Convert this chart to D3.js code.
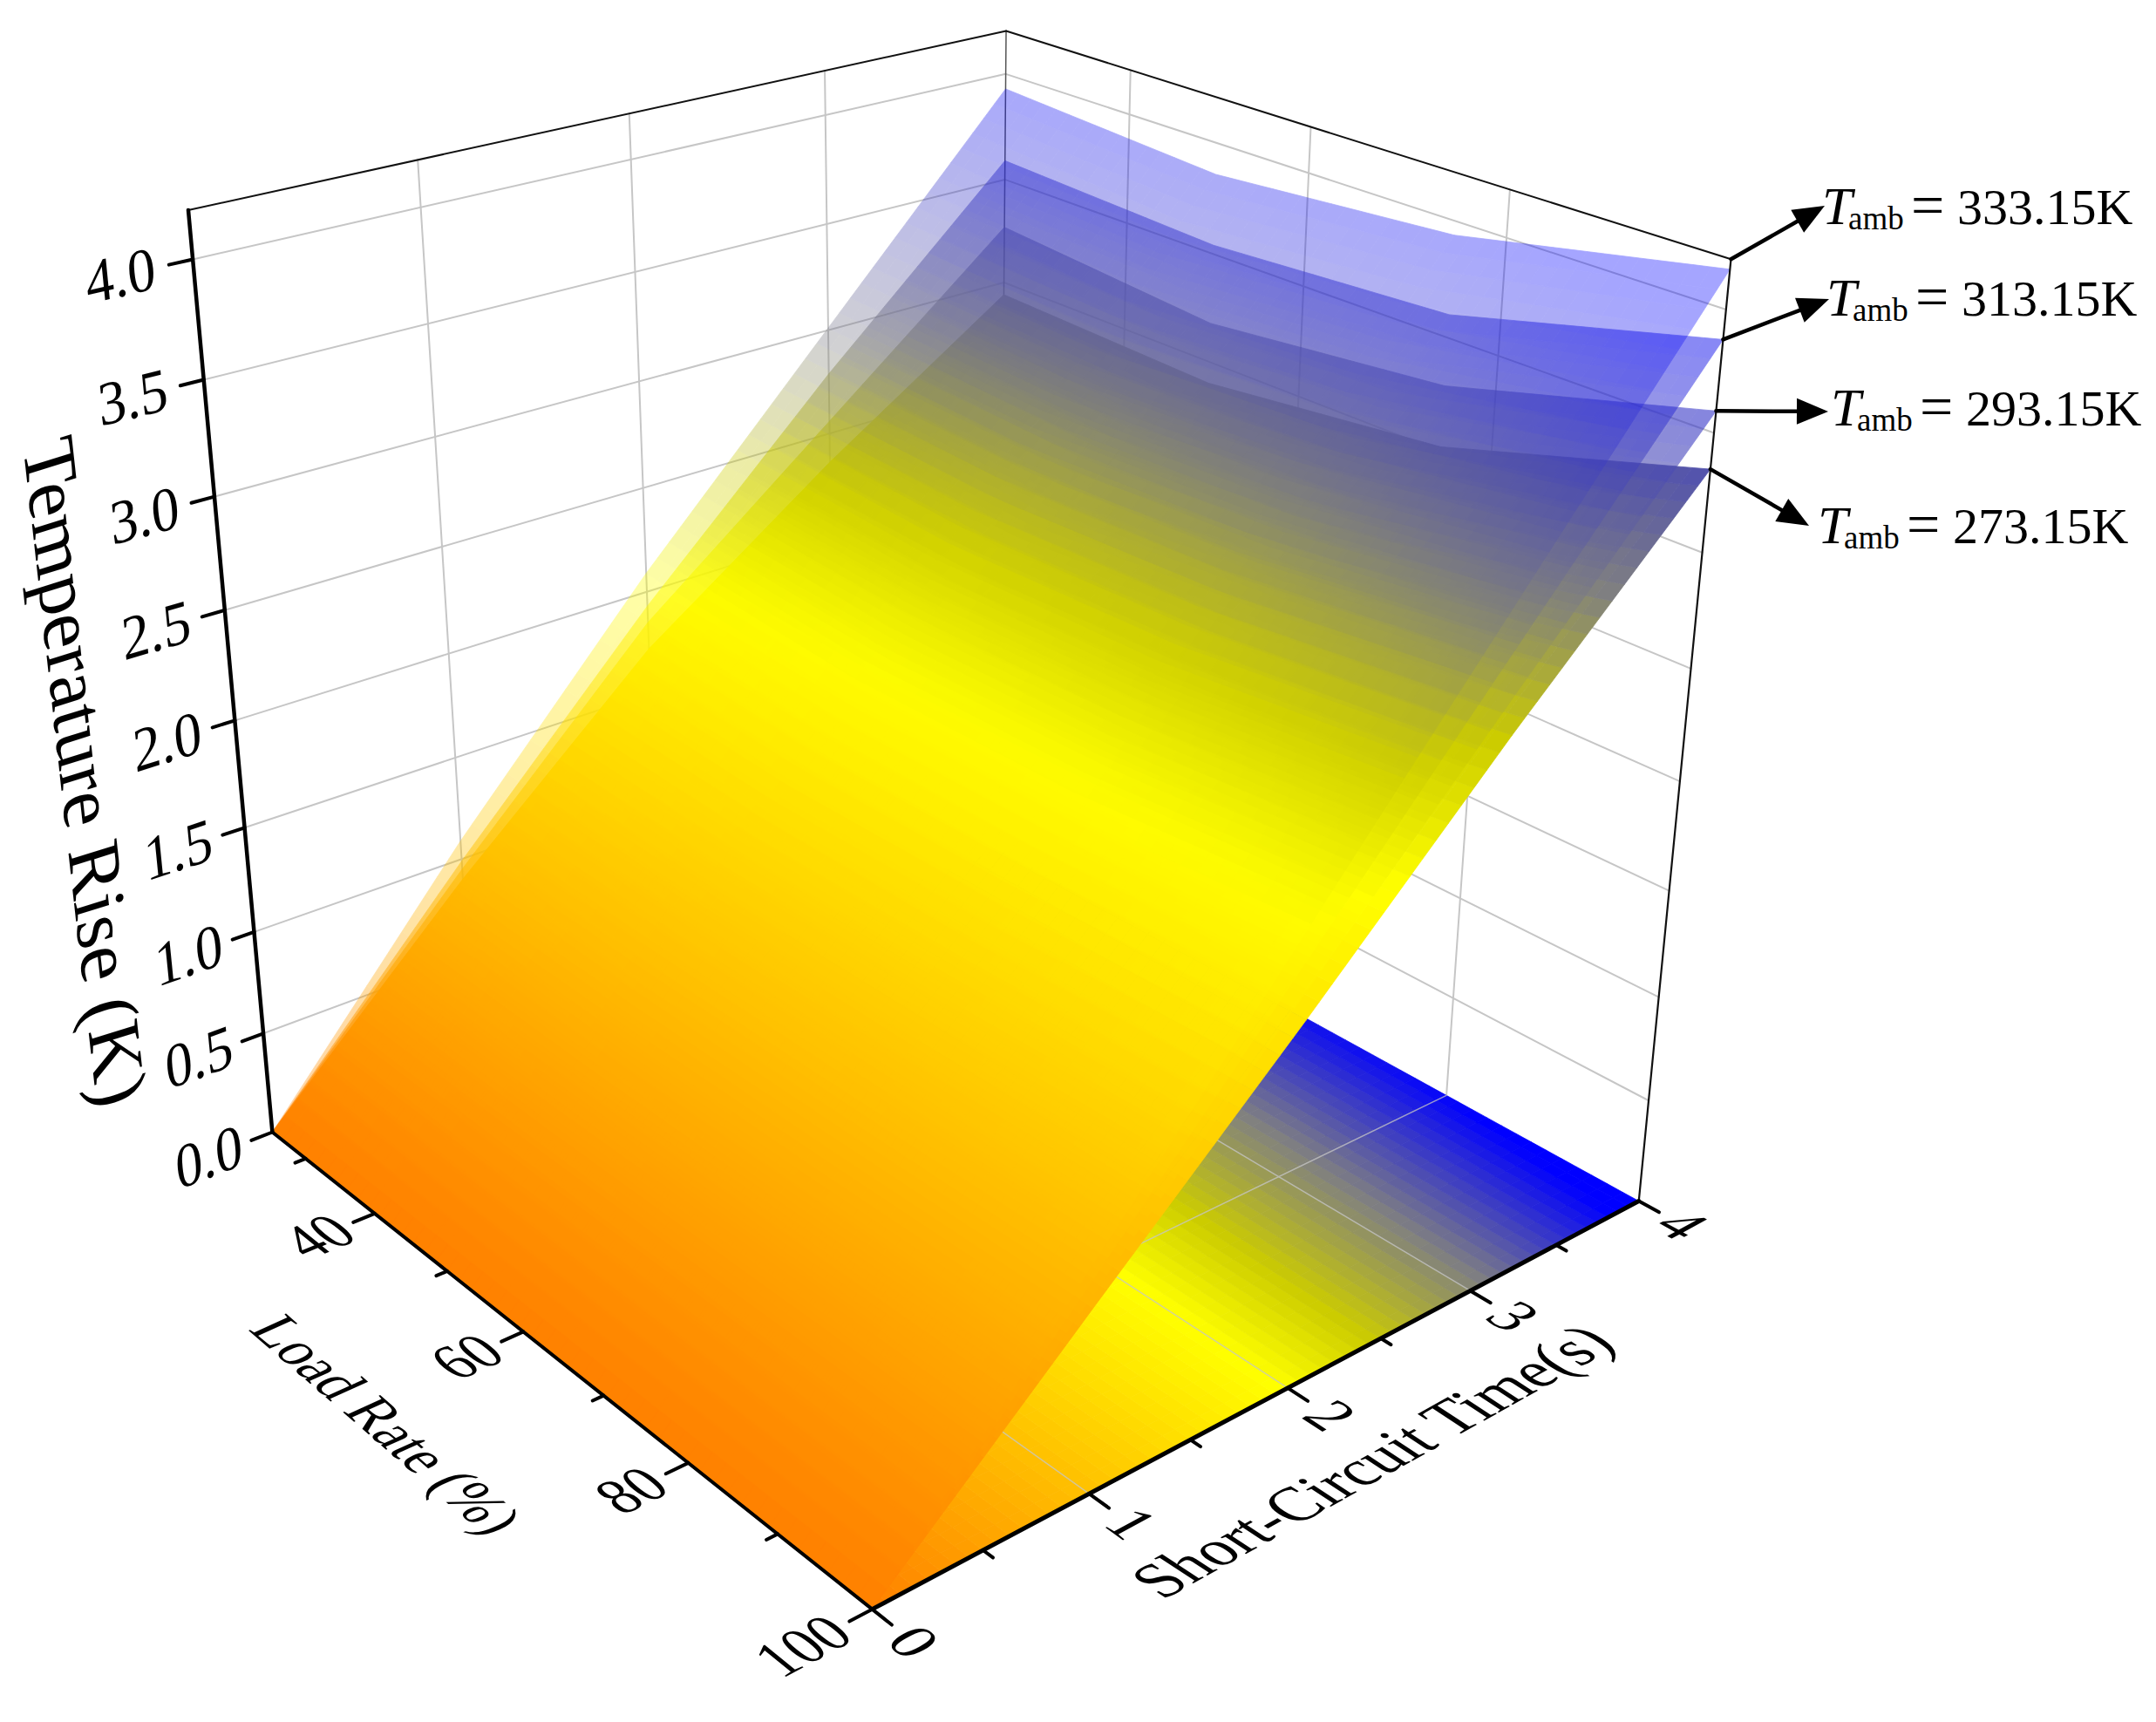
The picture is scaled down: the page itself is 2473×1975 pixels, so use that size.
<!DOCTYPE html>
<html>
<head>
<meta charset="utf-8">
<title>Temperature rise surfaces</title>
<script src="https://cdnjs.cloudflare.com/ajax/libs/d3/7.8.5/d3.min.js"></script>
<style>
body { margin: 0; background: #fff; }
text { font-family: "Liberation Serif", "Times New Roman", serif; fill: #000; }
</style>
</head>
<body>
<script>
//Width and height
var width = 2473;
var height = 1975;

//Data
var times = [0, 1, 2, 3, 4];
var loads = [25, 50, 75, 100];

// one row per load, one value per time
var rise273 = [
    [0, 0.90, 1.72, 2.36, 2.94],
    [0, 0.86, 1.66, 2.30, 2.90],
    [0, 0.85, 1.66, 2.38, 3.02],
    [0, 0.84, 1.67, 2.53, 3.35]
];
var rise293 = [
    [0, 0.95, 1.85, 2.56, 3.27],
    [0, 0.92, 1.78, 2.50, 3.18],
    [0, 0.90, 1.78, 2.58, 3.29],
    [0, 0.90, 1.80, 2.70, 3.59]
];
var rise313 = [
    [0, 0.99, 1.93, 2.79, 3.59],
    [0, 0.96, 1.87, 2.74, 3.54],
    [0, 0.96, 1.88, 2.78, 3.60],
    [0, 0.97, 1.94, 2.91, 3.88]
];
var rise333 = [
    [0, 1.09, 2.09, 3.01, 3.93],
    [0, 1.04, 2.00, 2.95, 3.86],
    [0, 1.03, 2.00, 2.99, 3.94],
    [0, 1.04, 2.08, 3.12, 4.16]
];

var zTicks = [0, 0.5, 1, 1.5, 2, 2.5, 3, 3.5, 4];
var loadTicks = [40, 60, 80, 100];
var loadMinor = [30, 50, 70, 90];
var timeTicks = [0, 1, 2, 3, 4];
var timeMinor = [0.5, 1.5, 2.5, 3.5];

var ambLabels = ["333.15K", "313.15K", "293.15K", "273.15K"];

var surfaceStops = [0, 2.05, 2.5, 2.95, 4];
var floorStops = [0, 2.05, 2.55, 3.2, 4];
var colorValues = ["#ff8000", "#ffff00", "#cccc00", "#808080", "#0000ff"];

//Scales: data to the unit box
var uScale = d3.scaleLinear().domain([0, 4]).range([0, 1]);
var vScale = d3.scaleLinear().domain([25, 100]).range([0, 1]);
var wScale = d3.scaleLinear().domain([0, 4.2]).range([0, 1]);
var surfaceColor = d3.scaleLinear().domain(surfaceStops).range(colorValues).clamp(true);
var floorColor = d3.scaleLinear().domain(floorStops).range(colorValues).clamp(true);

//Camera of the box: origin corner, then the vanishing point of each axis with its weight
var origin = [312.4, 1298.5];
var vpTime = [6671, -1173, 0.15088];
var vpLoad = [-2867, -1230, -0.1779];
var vpZ = [1072, 9630, -0.11263];

function project(t, load, z) {
    var a = vpTime[2] * uScale(t);
    var b = vpLoad[2] * vScale(load);
    var c = vpZ[2] * wScale(z);
    var den = 1 + a + b + c;
    return [
        (origin[0] + a * vpTime[0] + b * vpLoad[0] + c * vpZ[0]) / den,
        (origin[1] + a * vpTime[1] + b * vpLoad[1] + c * vpZ[1]) / den
    ];
}

// unit vector on screen between two projected points
function dir(p0, p1) {
    var dx = p1[0] - p0[0];
    var dy = p1[1] - p0[1];
    var len = Math.sqrt(dx * dx + dy * dy);
    return [dx / len, dy / len];
}

function timeDir(t, load, z) { return dir(project(t - 0.1, load, z), project(t + 0.1, load, z)); }
function loadDir(t, load, z) { return dir(project(t, load - 2, z), project(t, load + 2, z)); }
function upDir(t, load, z) { return dir(project(t, load, z), project(t, load, z + 0.1)); }
function neg(d) { return [-d[0], -d[1]]; }

// surface value at any time and load, from the table of readings
function surface(table) {
    var rows = table.map(function(row) {
        return d3.scaleLinear().domain(times).range(row);
    });
    return function(t, load) {
        return d3.scaleLinear().domain(loads).range(rows.map(function(s) { return s(t); }))(load);
    };
}

//Mesh used only to paint the colour gradient
var meshTimes = d3.range(0, 65).map(function(i) { return i / 16; });
var meshLoads = d3.range(0, 49).map(function(i) { return 25 + i * 75 / 48; });
var line = d3.line();

function buildCells(table, flat) {
    var f = surface(table);
    var scale = flat ? floorColor : surfaceColor;
    var cells = [];
    for (var i = 0; i < meshTimes.length - 1; ++i) {
        for (var j = 0; j < meshLoads.length - 1; ++j) {
            var t0 = meshTimes[i], t1 = meshTimes[i + 1];
            var l0 = meshLoads[j], l1 = meshLoads[j + 1];
            var zs = [f(t0, l0), f(t1, l0), f(t1, l1), f(t0, l1)];
            var h = flat ? [0, 0, 0, 0] : zs;
            cells.push({
                d: line([project(t0, l0, h[0]), project(t1, l0, h[1]), project(t1, l1, h[2]), project(t0, l1, h[3])]) + "Z",
                c: scale(d3.mean(zs))
            });
        }
    }
    return cells;
}

function drawCells(parent, cells) {
    parent.selectAll("path")
        .data(cells)
        .join("path")
        .attr("d", function(d) { return d.d; })
        .attr("fill", function(d) { return d.c; })
        .attr("stroke", function(d) { return d.c; })
        .attr("stroke-width", 0.8);
}

function drawSegment(parent, p0, p1, color, w) {
    parent.append("line")
        .attr("x1", p0[0]).attr("y1", p0[1])
        .attr("x2", p1[0]).attr("y2", p1[1])
        .attr("stroke", color)
        .attr("stroke-width", w)
        .attr("stroke-linecap", "round");
}

// text laid in the plane of the box, xd = reading direction, ud = glyph up direction
function planeText(parent, str, p, xd, ud, size, anchor, xs) {
    parent.append("text")
        .attr("transform", "matrix(" + [xd[0] * xs, xd[1] * xs, -ud[0], -ud[1], p[0], p[1]].join(",") + ")")
        .attr("font-size", size)
        .attr("text-anchor", anchor)
        .attr("dy", "0.33em")
        .text(str);
}

//Create SVG element
var svg = d3.select("body")
    .append("svg")
    .attr("width", width)
    .attr("height", height);

svg.append("rect").attr("width", width).attr("height", height).attr("fill", "#fff");

//Wall grid
var gridColor = "#c6c6c6";
var walls = svg.append("g");
zTicks.slice(1).forEach(function(z) {
    drawSegment(walls, project(0, 25, z), project(4, 25, z), gridColor, 2);
    drawSegment(walls, project(4, 25, z), project(4, 100, z), gridColor, 2);
});
[1, 2, 3].forEach(function(t) {
    drawSegment(walls, project(t, 25, 0), project(t, 25, 4.2), gridColor, 2);
});
[40, 60, 80].forEach(function(l) {
    drawSegment(walls, project(4, l, 0), project(4, l, 4.2), gridColor, 2);
});
drawSegment(walls, project(4, 25, 0), project(4, 25, 4.2), "#555", 1.5);

//Floor map and its grid
drawCells(svg.append("g"), buildCells(rise333, true));
var floorGrid = svg.append("g").attr("opacity", 0.75);
[1, 2, 3].forEach(function(t) {
    drawSegment(floorGrid, project(t, 25, 0), project(t, 100, 0), gridColor, 1.5);
});
[40, 60, 80].forEach(function(l) {
    drawSegment(floorGrid, project(0, l, 0), project(4, l, 0), gridColor, 1.5);
});

//Surfaces, lowest one solid and the others see through
var surfaceAlpha = [0.6, 0.5, 0.35];
drawCells(svg.append("g"), buildCells(rise273, false));
[rise293, rise313, rise333].forEach(function(table, i) {
    drawCells(svg.append("g").attr("opacity", surfaceAlpha[i]), buildCells(table, false));
});

//Box frame
var frame = svg.append("g");
drawSegment(frame, project(0, 25, 4.2), project(4, 25, 4.2), "#111", 2);
drawSegment(frame, project(4, 25, 4.2), project(4, 100, 4.2), "#111", 2);
drawSegment(frame, project(4, 100, 4.2), project(4, 100, 0), "#111", 2.2);
drawSegment(frame, project(0, 25, 0), project(0, 25, 4.2), "#000", 4.5);
drawSegment(frame, project(0, 25, 0), project(0, 100, 0), "#000", 4);
drawSegment(frame, project(0, 100, 0), project(4, 100, 0), "#000", 5);

//Ticks
zTicks.forEach(function(z) {
    drawSegment(frame, project(0, 25, z), project(-0.1, 25, z), "#000", 4);
});
loadTicks.forEach(function(l) {
    drawSegment(frame, project(0, l, 0), project(-0.1, l, 0), "#000", 4);
});
loadMinor.forEach(function(l) {
    drawSegment(frame, project(0, l, 0), project(-0.05, l, 0), "#000", 4);
});
timeTicks.forEach(function(t) {
    drawSegment(frame, project(t, 100, 0), project(t, 102, 0), "#000", 4);
});
timeMinor.forEach(function(t) {
    drawSegment(frame, project(t, 100, 0), project(t, 101, 0), "#000", 4);
});

//Tick labels
var labels = svg.append("g");
zTicks.forEach(function(z) {
    planeText(labels, z.toFixed(1), project(-0.3, 25, z),
        timeDir(-0.3, 25, z), upDir(-0.3, 25, z), 71, "middle", 0.92);
});
loadTicks.forEach(function(l) {
    planeText(labels, String(l), project(-0.14, l, 0),
        timeDir(-0.14, l, 0), neg(loadDir(-0.14, l, 0)), 72, "end", 0.9);
});
timeTicks.forEach(function(t) {
    planeText(labels, String(t), project(t, 104.2, 0),
        loadDir(t, 104.2, 0), timeDir(t, 104.2, 0), 70, "middle", 1);
});

//Axis titles
planeText(labels, "Temperature Rise (K)", project(-0.66, 25, 1.98),
    neg(upDir(-0.66, 25, 2)), timeDir(-0.66, 25, 2), 88, "middle", 1);
planeText(labels, "Load Rate (%)", project(-0.72, 63.2, 0),
    loadDir(-0.72, 63.2, 0), timeDir(-0.72, 63.2, 0), 72, "middle", 0.86);
planeText(labels, "Short-Circuit Time(s)", project(1.92, 109.7, 0),
    timeDir(1.92, 109.7, 0), neg(loadDir(1.92, 109.7, 0)), 76, "middle", 0.91);

//Callouts for the four ambient temperatures
var arrowStart = [4.2, rise313[3][4], rise293[3][4], rise273[3][4]];
var arrowTips = [[2093, 236], [2098, 343], [2097, 472], [2075, 603]];
var labelX = [2090, 2095, 2100, 2085];
var labelY = [257, 362, 488, 623];

var callouts = svg.append("g");
ambLabels.forEach(function(label, i) {
    var p0 = project(4, 100, arrowStart[i]);
    var tip = arrowTips[i];
    var d = dir(p0, tip);
    var base = [tip[0] - d[0] * 36, tip[1] - d[1] * 36];
    drawSegment(callouts, p0, base, "#000", 4.5);
    callouts.append("path")
        .attr("d", line([
            tip,
            [base[0] - d[1] * 15, base[1] + d[0] * 15],
            [base[0] + d[1] * 15, base[1] - d[0] * 15]
        ]) + "Z")
        .attr("fill", "#000");

    var x = labelX[i], y = labelY[i];
    callouts.append("text").attr("x", x).attr("y", y)
        .attr("font-size", 62).attr("font-style", "italic").text("T");
    callouts.append("text").attr("x", x + 30).attr("y", y + 6)
        .attr("font-size", 37).text("amb");
    callouts.append("text").attr("x", x + 102).attr("y", y + 1)
        .attr("font-size", 68).text("=");
    callouts.append("text").attr("x", x + 155).attr("y", y)
        .attr("font-size", 58).text(label);
});
</script>
</body>
</html>
